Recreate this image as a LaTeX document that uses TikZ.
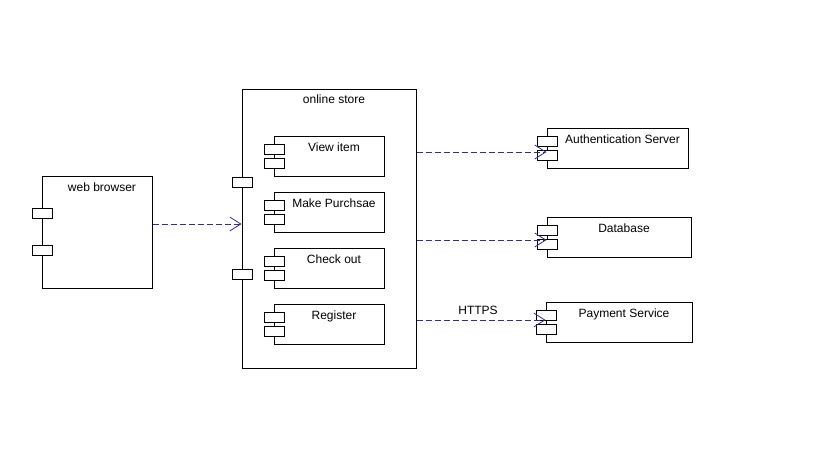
\documentclass[tikz,border=0pt]{standalone}
\usepackage{fontspec}
\setmainfont{Liberation Sans}
\usetikzlibrary{arrows.meta,shadows}

\definecolor{depblue}{RGB}{45,45,165}

\begin{document}
\begin{tikzpicture}[x=1pt,y=-1pt]

\tikzset{
  comp/.style = { rectangle, draw, fill = white, line width = 1pt,
                  inner sep = 0pt,
                  drop shadow = {shadow xshift = 1pt, shadow yshift = -1pt,
                                 fill = black!30, opacity = 1} },
  port/.style = { rectangle, draw, fill = white, line width = 1pt,
                  inner sep = 0pt, minimum width = 20pt, minimum height = 10pt },
  title/.style = { anchor = north, inner sep = 0pt, xshift = 5pt, yshift = -7.5pt },
  dep/.style = { depblue, line width = 0.8pt, dash pattern = on 6pt off 3pt,
                 -{Straight Barb[length = 11pt, width = 14pt, line width = 0.8pt]} },
  every node/.append style = { font = \fontsize{12}{14}\selectfont } }

  \useasboundingbox (0, 0) rectangle (836, 456);

  % web browser
  \node[comp, minimum width = 110pt, minimum height = 112pt,
        label = {[title]north:web browser}] (wb) at (97, 232) {};
  \node[port] (wbp1) at (42, 213) {};
  \node[port] (wbp2) at (42, 250) {};

  % online store
  \node[comp, minimum width = 174pt, minimum height = 279pt,
        label = {[title, yshift = 1pt]north:online store}] (store) at (329, 228.5) {};
  \node[port] (sp1) at (242, 182) {};
  \node[port] (sp2) at (242, 274) {};

  \node[comp, minimum width = 110pt, minimum height = 40pt,
        label = {[title]north:View item}] (view) at (329, 156) {};
  \node[port] (viewp1) at (274, 149) {};
  \node[port] (viewp2) at (274, 163) {};

  \node[comp, minimum width = 110pt, minimum height = 40pt,
        label = {[title]north:Make Purchsae}] (buy) at (329, 212) {};
  \node[port] (buyp1) at (274, 205) {};
  \node[port] (buyp2) at (274, 219) {};

  \node[comp, minimum width = 110pt, minimum height = 40pt,
        label = {[title]north:Check out}] (check) at (329, 268) {};
  \node[port] (checkp1) at (274, 261) {};
  \node[port] (checkp2) at (274, 275) {};

  \node[comp, minimum width = 110pt, minimum height = 40pt,
        label = {[title]north:Register}] (reg) at (329, 324) {};
  \node[port] (regp1) at (274, 317) {};
  \node[port] (regp2) at (274, 331) {};

  % services
  \node[comp, minimum width = 141pt, minimum height = 40pt,
        label = {[title]north:Authentication Server}] (auth) at (617.5, 148) {};
  \node[port] (authp1) at (547, 141) {};
  \node[port] (authp2) at (547, 155) {};

  \node[comp, minimum width = 144pt, minimum height = 40pt,
        label = {[title]north:Database}] (db) at (619, 237) {};
  \node[port] (dbp1) at (547, 230) {};
  \node[port] (dbp2) at (547, 244) {};

  \node[comp, minimum width = 146pt, minimum height = 40pt,
        label = {[title]north:Payment Service}] (pay) at (619, 322) {};
  \node[port] (payp1) at (546, 315) {};
  \node[port] (payp2) at (546, 329) {};

  % dependencies
  \draw[dep] ([yshift = 8pt]wb.east) -- ([yshift = 8pt]wb.east -| store.west);
  \draw[dep] ([yshift = -4pt]auth.west -| store.east) -- ([yshift = -4pt]auth.west);
  \draw[dep] ([yshift = -3pt]db.west -| store.east) -- ([yshift = -3pt]db.west);
  \draw[dep] ([yshift = 2pt]pay.west -| store.east) -- ([yshift = 2pt]pay.west)
    node[midway, above, inner sep = 5pt, xshift = -3pt, black] {HTTPS};

\end{tikzpicture}
\end{document}
